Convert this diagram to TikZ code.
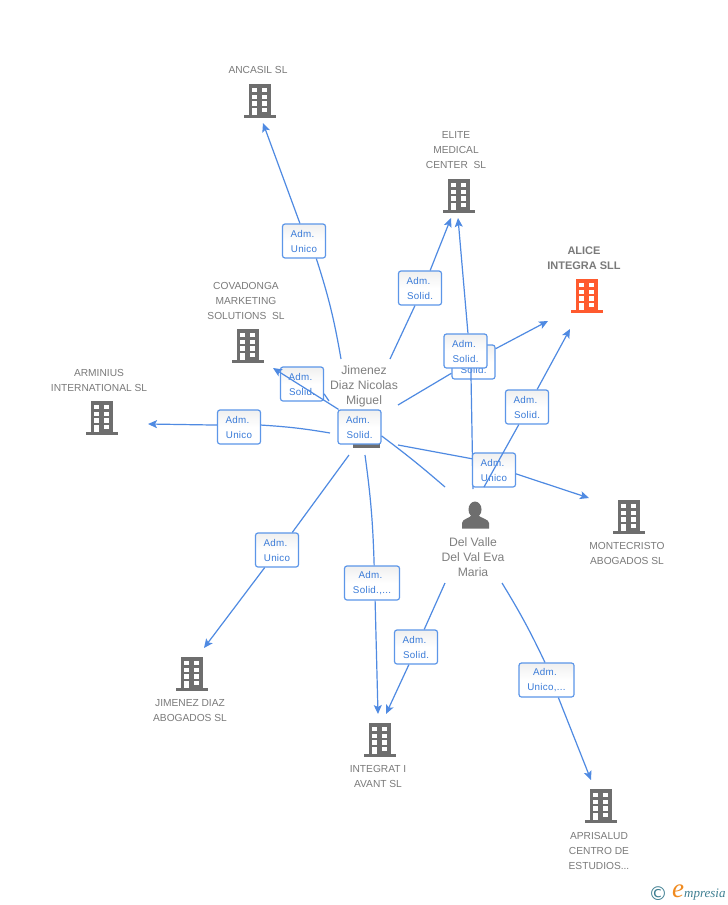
\documentclass[tikz,border=0pt]{standalone}
\usepackage{fontspec}
\setmainfont{Liberation Sans}
\newfontfamily\boxfont[LetterSpace=3]{Liberation Sans}
\newfontfamily\logofont{Liberation Serif}
\newfontfamily\dejafont{DejaVu Sans}
\usetikzlibrary{arrows.meta,shadings}
\definecolor{linkc}{HTML}{4F8AE2}
\definecolor{boxb}{HTML}{5C96E8}
\definecolor{boxt}{HTML}{3A7BD8}
\definecolor{iconc}{HTML}{6E6E6E}
\definecolor{txtc}{HTML}{7A7A7A}
\definecolor{hot}{HTML}{FF5A2E}
\definecolor{logot}{HTML}{3F7F92}
\definecolor{logoo}{HTML}{F08A1E}
\tikzset{
  x=1pt,y=-1pt,
  link/.style={draw=linkc,line width=1.2pt},
  tiplink/.style={link,-{Stealth[length=9pt,width=8pt,inset=2pt]}},
  lbl/.style={draw=boxb,line width=1.2pt,rounded corners=2.5pt,top color=gray!12,bottom color=white,middle color=white,
    text=boxt,align=center,font=\boxfont\fontsize{9.8}{15}\selectfont,minimum width=43pt,minimum height=34pt,inner sep=0pt},
  widebox/.style={minimum width=55pt},
  capt/.style={text=txtc,align=center,font=\fontsize{10.2}{15}\selectfont,inner sep=0pt},
  hotcapt/.style={capt,font=\bfseries\fontsize{11}{15}\selectfont},
  whocapt/.style={capt,text=gray,font=\fontsize{12.2}{15}\selectfont},
}
\newcommand{\adm}{Adm.\kern3pt}
\newcommand{\bldg}[3]{%
  \begin{scope}[shift={(#1,#2)}]
    \fill[#3] (-11,0) rectangle (11,31);
    \fill[#3] (-16,31) rectangle (16,33.5);
    \foreach \wy in {4,10.7,17.3}{
      \fill[white] (-7.7,\wy) rectangle (-3.3,\wy+4.2);
      \fill[white] (2.3,\wy) rectangle (6.8,\wy+4.2);
    }
    \fill[white] (2.3,23.7) rectangle (6.8,27.9);
    \fill[white] (-7.7,24) rectangle (-3.3,31);
  \end{scope}}
\begin{document}
\begin{tikzpicture}
\useasboundingbox (0,0) rectangle (728,905);
\fill[white] (0,0) rectangle (728,905);

% company icons
\bldg{260}{84}{iconc}
\bldg{459}{179}{iconc}
\bldg{587}{279}{hot}
\bldg{248}{329}{iconc}
\bldg{102}{401}{iconc}
\bldg{629}{500}{iconc}
\bldg{192}{657}{iconc}
\bldg{380}{723}{iconc}
\bldg{601}{789}{iconc}

% captions
\node[capt] (nAncasil) at (258,70) {ANCASIL SL};
\node[capt] (nElite) at (456,149.8) {ELITE\\MEDICAL\\CENTER\ \ SL};
\node[hotcapt] (nAlice) at (584,257.8) {ALICE\\INTEGRA SLL};
\node[capt] (nCova) at (246,300.8) {COVADONGA\\MARKETING\\SOLUTIONS\ \ SL};
\node[capt] (nArm) at (99,380) {ARMINIUS\\INTERNATIONAL SL};
\node[capt] (nMonte) at (627,553) {MONTECRISTO\\ABOGADOS SL};
\node[capt] (nJab) at (190,710.8) {JIMENEZ DIAZ\\ABOGADOS SL};
\node[capt] (nInt) at (378,776.8) {INTEGRAT I\\AVANT SL};
\node[capt] (nApr) at (599,850.8) {APRISALUD\\CENTRO DE\\ESTUDIOS...};
\node[whocapt] (nJim) at (364,386.2) {Jimenez\\Diaz Nicolas\\Miguel};
\node[whocapt] (nDel) at (473,557.5) {Del Valle\\Del Val Eva\\Maria};

% persons
\fill[iconc] (353,444) rectangle (380,447.5);
\fill[iconc] (475,509.5) ellipse (6.5 and 8);
\fill[iconc] (462,528.5) -- (462,523) .. controls (462,519) and (470,518) .. (472,515) -- (478,515) .. controls (480,518) and (489,519) .. (489,523) -- (489,528.5) -- cycle;

% free ends
\coordinate (sA) at (341,359);
\coordinate (tA) at (263,123);
\coordinate (sE) at (390,359);
\coordinate (tE) at (451,218);
\coordinate (sL) at (398,405);
\coordinate (tL) at (548,321);
\coordinate (tC) at (273,368);
\coordinate (sC) at (329,401);
\coordinate (sR) at (330,433);
\coordinate (tR) at (148,424);
\coordinate (sJ) at (349,455);
\coordinate (tJ) at (204,648);
\coordinate (sI) at (365,455);
\coordinate (tI) at (378,714);
\coordinate (sM) at (398,445);
\coordinate (tM) at (589,498);
\coordinate (dE) at (473,489);
\coordinate (tE2) at (458,218);
\coordinate (dL) at (484,487);
\coordinate (tL2) at (570,329);
\coordinate (dI) at (445,583);
\coordinate (tI2) at (386,714);
\coordinate (dP) at (502,583);
\coordinate (tP) at (591,780);
\coordinate (dJ) at (445,487);

% Jimenez links
\node[lbl] (bA) at (304,241) {\adm\\Unico};
\draw[link] (sA) to[bend right=4] (bA.-55);
\draw[tiplink] (bA.103) -- (tA);

\node[lbl] (bE) at (420,288) {\adm\\Solid.};
\draw[link] (sE) -- (bE.-106);
\draw[tiplink] (bE.60) -- (tE);

\node[lbl] (bR) at (239,427) {\adm\\Unico};
\draw[link] (sR) to[bend right=3] (bR.5);
\draw[tiplink] (bR.175) -- (tR);

\node[lbl] (bJ) at (277,550) {\adm\\Unico};
\draw[link] (sJ) -- (bJ.49);
\draw[tiplink] (bJ.-125) -- (tJ);

\node[lbl,widebox] (bI) at (372,583) {\adm\\Solid.,...};
\draw[link] (sI) to[bend left=3] (bI.83);
\draw[tiplink] (bI.-80) -- (tI);

% back label to ALICE
\node[lbl] (bL) at (473.5,362) {\adm\\Solid.};
\draw[link] (sL) -- (bL.-153);
\draw[tiplink] (bL.31) -- (tL);

% Del Valle to ELITE
\node[lbl] (bE2) at (465.5,351) {\adm\\Solid.};
\draw[link] (dE) -- (bE2.-73);
\draw[tiplink] (bE2.82) -- (tE2);

% Jimenez to MONTECRISTO
\node[lbl] (bM) at (494,470) {\adm\\Unico};
\draw[link] (sM) -- (bM.153);
\draw[tiplink] (bM.-10) -- (tM);

% Del Valle to ALICE
\node[lbl] (bL2) at (527,407) {\adm\\Solid.};
\draw[link] (dL) -- (bL2.-115);
\draw[tiplink] (bL2.60) -- (tL2);

% Del Valle to others
\node[lbl] (bI2) at (416,647) {\adm\\Solid.};
\draw[link] (dI) -- (bI2.65);
\draw[tiplink] (bI2.-112) -- (tI2);

\node[lbl,widebox] (bP) at (546.5,680) {\adm\\Unico,...};
\draw[link] (dP) to[bend left=3] (bP.95);
\draw[tiplink] (bP.-56) -- (tP);

% Jimenez / Del Valle and COVADONGA
\node[lbl] (bC) at (302,384) {\adm\\Solid.};
\draw[link] (sC) -- (bC.-24);
\node[lbl] (bD) at (359.5,427) {\adm\\Solid.};
\draw[link] (dJ) to[bend right=2] (bD.-22);
\draw[tiplink] (bD.140) -- (tC);

% logo
\node[inner sep=0pt,text=logot,font=\dejafont\fontsize{19}{19}\selectfont] (lC) at (658,894) {©};
\node[inner sep=0pt,text=logoo,font=\logofont\itshape\fontsize{27}{27}\selectfont] (lE) at (678,891) {e};
\node[inner sep=0pt,text=logot,anchor=west,font=\logofont\itshape\fontsize{13}{14}\selectfont] (lM) at (684,895) {mpresia};
\end{tikzpicture}
\end{document}
